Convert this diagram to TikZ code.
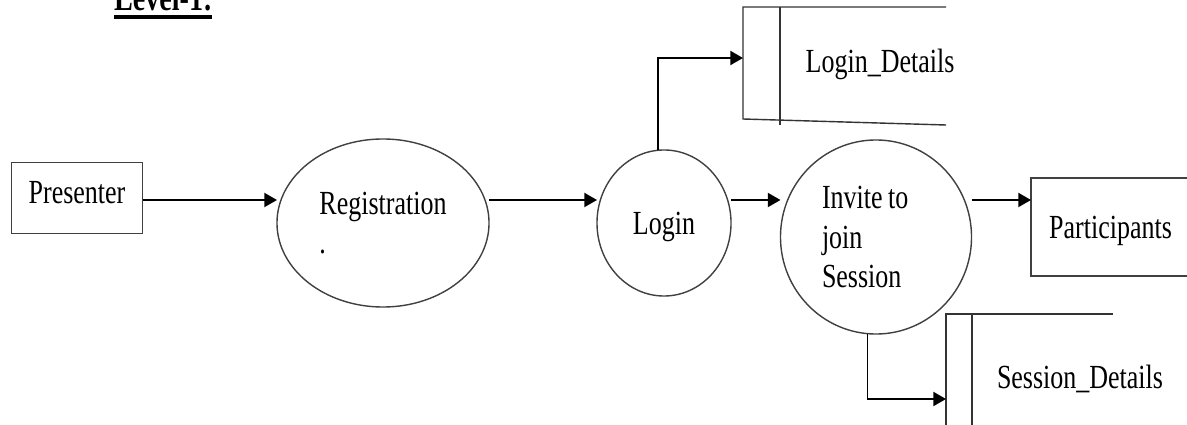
\documentclass[tikz,border=0pt]{standalone}
\usepackage{fontspec}
\setmainfont{Liberation Serif}[FakeStretch=0.77]
\usetikzlibrary{arrows.meta,shapes.geometric}

\begin{document}
\begin{tikzpicture}[x=0.025cm,y=-0.025cm,
    every node/.style={font=\fontsize{24}{28}\selectfont,outer sep=0pt},
    lbl/.style={text depth=0pt},
    ent/.style={draw=black!75,line width=1pt,rectangle,lbl},
    proc/.style={draw=black!75,line width=1pt,ellipse},
    flow/.style={draw=black,line width=1.3pt,-{Triangle[length=9pt,width=10pt]}},
    store/.style={draw=black!80,line width=1pt}]
    \useasboundingbox (0,0) rectangle (1187,425);
    \node[anchor=base west,inner sep=0pt,font=\bfseries\fontsize{26}{30}\selectfont] (title) at (114,11) {Level-1:};
    \draw[line width=2.6pt] ([yshift=-4.3pt]title.base west) -- ([yshift=-4.3pt]title.base east);
    \node[ent,minimum width=3.275cm,minimum height=1.775cm,text depth=0.3cm] (pres) at (77,198) {Presenter};
    \node[proc,minimum width=5.3cm,minimum height=4.2cm,align=left] (reg) at (383,223) {Registration\\.};
    \node[proc,lbl,minimum width=3.35cm,minimum height=3.65cm] (login) at (664,223) {Login};
    \node[proc,minimum width=4.775cm,minimum height=4.85cm,text width=2.7cm,align=left] (inv) at (876,237) {Invite\kern4pt to\\join\\Session};
    \node[ent,minimum width=3.975cm,minimum height=2.45cm] (part) at (1110.5,227) {Participants};
    \node[lbl] (ldet) at (880,61) {Login\_Details};
    \node[lbl] (sdet) at (1080,377) {Session\_Details};
    \draw[store] (946,7) -- (743,7) -- (743,119) -- (946,125);
    \draw[store] (780,7) -- (780,125);
    \draw[store] (1113,314) -- (946,314) -- (946,430);
    \draw[store] (972,314) -- (972,430);
    \coordinate (row) at (0,200);
    \coordinate (ldin) at (743,58);
    \coordinate (sdin) at (946,399);
    \draw[flow] (pres.east |- row) -- (reg.west |- row);
    \draw[flow] (reg.east |- row) -- (login.west |- row);
    \draw[flow] (login.east |- row) -- (inv.west |- row);
    \draw[flow] (inv.east |- row) -- (part.west |- row);
    \draw[flow] (login.95) |- (ldin);
    \draw[flow] (inv.265) |- (sdin);
\end{tikzpicture}
\end{document}
